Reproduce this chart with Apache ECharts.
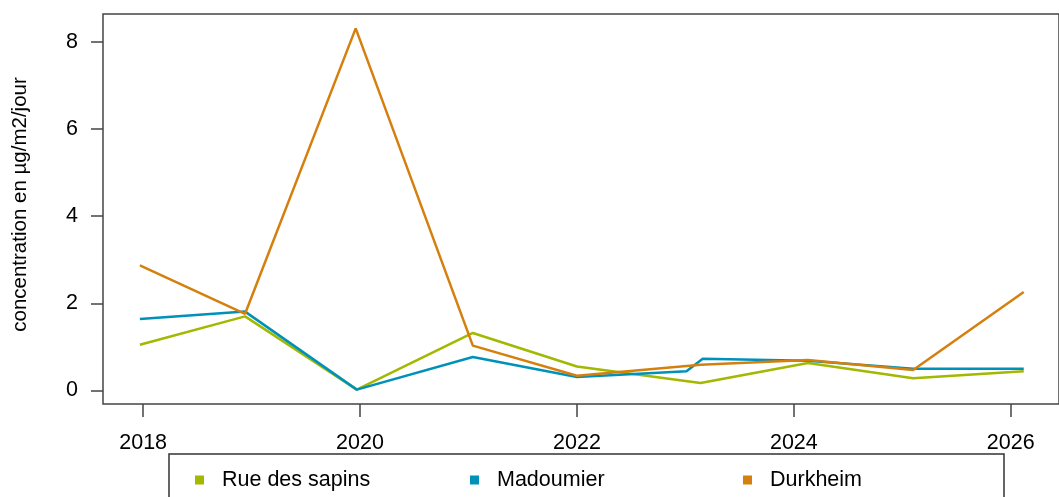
<!DOCTYPE html>
<html>
<head>
<meta charset="utf-8">
<script src="https://cdn.jsdelivr.net/npm/echarts@6/dist/echarts.min.js"></script>
<style>
html,body{margin:0;padding:0;background:#fff;}
#chart{width:1059px;height:497px;}
</style>
</head>
<body>
<div id="chart"></div>
<script>
// ---- data ----
const seriesNames = ['Rue des sapins', 'Madoumier', 'Durkheim'];
const yearsSapins = [2017.97, 2018.94, 2019.97, 2021.04, 2022.00, 2023.14, 2024.13, 2025.10, 2026.12];
const valuesSapins = [1.05, 1.70, 0.02, 1.32, 0.55, 0.17, 0.63, 0.28, 0.44];
const yearsMadoumier = [2017.97, 2018.94, 2019.97, 2021.04, 2022.00, 2023.01, 2023.16, 2024.13, 2025.10, 2026.12];
const valuesMadoumier = [1.64, 1.81, 0.02, 0.77, 0.31, 0.44, 0.73, 0.68, 0.50, 0.50];
const yearsDurkheim = [2017.97, 2018.94, 2019.96, 2021.04, 2022.00, 2023.14, 2024.13, 2025.10, 2026.12];
const valuesDurkheim = [2.87, 1.76, 8.31, 1.03, 0.34, 0.59, 0.70, 0.47, 2.26];
const xTicks = [2018, 2020, 2022, 2024, 2026];
const yTicks = [0, 2, 4, 6, 8];
const yTitle = 'concentration en µg/m2/jour';

const colors = ['#a3b800', '#0091b9', '#d5800e'];
const FONT = 'Liberation Sans, Arial, sans-serif';
const FS = 21.5;

function pairs(xs, ys) { return xs.map((x, i) => [x, ys[i]]); }

const chart = echarts.init(document.getElementById('chart'), null, {renderer: 'canvas'});

const legendLefts = [195, 470, 743];
const option = {
  backgroundColor: '#ffffff',
  animation: false,
  grid: {
    left: 103, top: 14, width: 967, height: 390,
    show: true, borderColor: '#444', borderWidth: 1.5, backgroundColor: 'transparent'
  },
  xAxis: {
    type: 'value', min: 2017.63, max: 2026.445,
    splitLine: {show: false},
    axisLine: {show: false, onZero: false},
    axisTick: {show: true, inside: false, length: 13, customValues: xTicks, lineStyle: {color: '#444', width: 1.5}},
    axisLabel: {show: true, customValues: xTicks, margin: 28, fontSize: FS, color: '#000', fontFamily: FONT,
      formatter: v => String(v)}
  },
  yAxis: {
    type: 'value', min: -0.31, max: 8.64,
    splitLine: {show: false},
    axisLine: {show: false, onZero: false},
    axisTick: {show: true, inside: false, length: 12, customValues: yTicks, lineStyle: {color: '#444', width: 1.5}},
    axisLabel: {show: true, customValues: yTicks, margin: 25, fontSize: FS, color: '#000', fontFamily: FONT,
      formatter: v => String(v)}
  },
  legend: seriesNames.map((n, i) => ({
    data: [n], left: legendLefts[i], top: 469, padding: 0,
    icon: 'rect', itemWidth: 9, itemHeight: 9, itemGap: 0,
    formatter: '{t|{name}}',
    textStyle: {fontSize: FS, color: '#000', fontFamily: FONT,
      rich: {t: {fontSize: FS, color: '#000', fontFamily: FONT, padding: [0, 0, 0, 13]}}}
  })),
  graphic: [
    {type: 'rect', shape: {x: 169, y: 454, width: 835, height: 100},
     style: {fill: 'none', stroke: '#333', lineWidth: 1.5}, z: 100},
    {type: 'text', x: 20, y: 204.5, rotation: Math.PI / 2,
     style: {text: yTitle, font: '20.5px ' + FONT, fill: '#000', align: 'center', verticalAlign: 'middle'}}
  ],
  series: [
    {name: seriesNames[0], type: 'line', data: pairs(yearsSapins, valuesSapins), color: colors[0],
     showSymbol: false, symbol: 'none', lineStyle: {width: 2.5, color: colors[0]}, itemStyle: {color: colors[0]}},
    {name: seriesNames[1], type: 'line', data: pairs(yearsMadoumier, valuesMadoumier), color: colors[1],
     showSymbol: false, symbol: 'none', lineStyle: {width: 2.5, color: colors[1]}, itemStyle: {color: colors[1]}},
    {name: seriesNames[2], type: 'line', data: pairs(yearsDurkheim, valuesDurkheim), color: colors[2],
     showSymbol: false, symbol: 'none', lineStyle: {width: 2.5, color: colors[2]}, itemStyle: {color: colors[2]}}
  ]
};
chart.setOption(option);
</script>
</body>
</html>
